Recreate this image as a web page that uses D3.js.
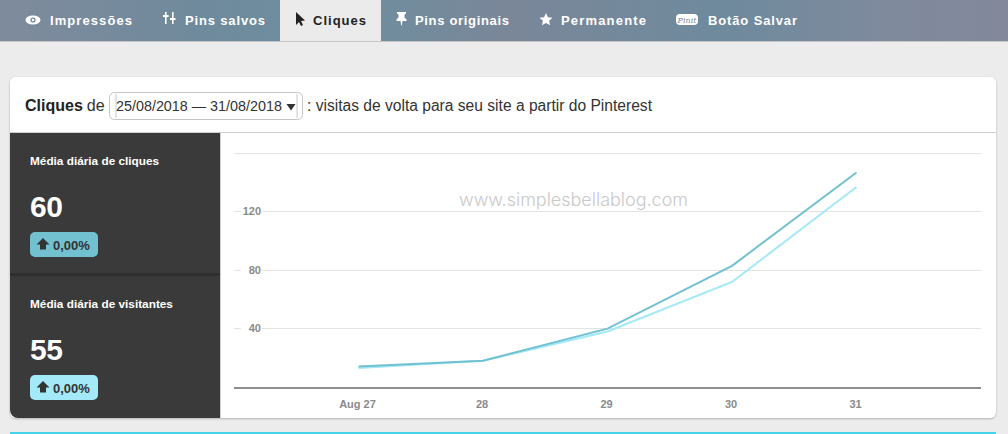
<!DOCTYPE html>
<html>
<head>
<meta charset="utf-8">
<script src="https://cdn.jsdelivr.net/npm/d3@7"></script>
<style>
html, body { margin: 0; padding: 0; background: #ececec; overflow: hidden; }
svg { display: block; font-family: "Liberation Sans", Arial, sans-serif; }
</style>
</head>
<body>
<div id="containerDiv"></div>
<script>
// chart data
var days = ["Aug 27", "28", "29", "30", "31"];
var clicks = [14, 18, 40, 83, 147];
var visitors = [13, 18, 38, 72, 137];
var yTicks = [40, 80, 120, 160];

var navLabels = ["Impressões", "Pins salvos", "Cliques", "Pins originais", "Permanente", "Botão Salvar"];
var navTextX = [50, 185, 313, 415, 561, 708];
var navTextW = [82, 80, 53, 94, 85, 89];
var statTitles = ["Média diária de cliques", "Média diária de visitantes"];
var statValues = ["60", "55"];
var statChange = "0,00%";

var w = 1008, h = 434;
var darkBlue = "#72c1d1", lightBlue = "#a3e9f7";

var svg = d3.select("#containerDiv").append("svg").attr("width", w).attr("height", h);
var defs = svg.append("defs");

var navGrad = defs.append("linearGradient").attr("id", "navGrad");
[[0, "#7f8b9c"], [0.2, "#6f8a9c"], [0.33, "#6d8f9f"], [0.5, "#7a8799"], [0.72, "#6f8a9d"], [0.88, "#7f8a9d"], [1, "#83889b"]].forEach(function(s) {
  navGrad.append("stop").attr("offset", s[0]).attr("stop-color", s[1]);
});

var shadow = defs.append("filter").attr("id", "cardShadow").attr("x", "-2%").attr("y", "-2%").attr("width", "104%").attr("height", "104%");
shadow.append("feDropShadow").attr("dx", 0).attr("dy", 1).attr("stdDeviation", 1).attr("flood-color", "#000").attr("flood-opacity", 0.25);

// nav bar
svg.append("rect").attr("width", w).attr("height", 41).attr("fill", "url(#navGrad)");
svg.append("rect").attr("y", 41).attr("width", w).attr("height", 1).attr("fill", "#c6c6c6");
svg.append("rect").attr("x", 280).attr("width", 101).attr("height", 41).attr("fill", "#ebebeb");

svg.selectAll("text.nav")
  .data(navLabels)
  .enter()
  .append("text")
  .attr("class", "nav")
  .attr("x", function(d, i) { return navTextX[i]; })
  .attr("y", 25)
  .attr("font-size", 13)
  .attr("font-weight", "bold")
  .attr("textLength", function(d, i) { return navTextW[i]; })
  .attr("fill", function(d) { return d == "Cliques" ? "#222" : "#fff"; })
  .text(function(d) { return d; });

// nav icons
var eye = svg.append("g").attr("transform", "translate(33,20)");
eye.append("ellipse").attr("rx", 7.5).attr("ry", 4.5).attr("fill", "#fff");
eye.append("circle").attr("r", 2.6).attr("fill", "#74889a");
eye.append("circle").attr("r", 1.3).attr("fill", "#fff");
svg.append("path").attr("d", "M165 12h1.6v3h2v2h-2v7h-1.6v-7h-2v-2h2z M172 12h1.6v6h2v2h-2v4H172v-4h-2v-2h2z").attr("fill", "#fff");
svg.append("path").attr("d", "M296 12l0 13 3-3 2 4 2-1-2-4 4-.5z").attr("fill", "#222");
svg.append("path").attr("d", "M397 12h9v1.5l-1.5 1v3l2 2v1.5h-4l-.7 4.5h-.6l-.7-4.500h-4v-1.500l2-2v-3l-1.500-1z").attr("fill", "#fff");
svg.append("path").attr("d", "M546 13l1.900 4.200 4.600.5-3.400 3.100 1 4.500-4.100-2.400-4.100 2.400 1-4.500-3.400-3.100 4.600-.5z").attr("fill", "#fff");
svg.append("rect").attr("x", 676).attr("y", 14).attr("width", 22).attr("height", 11).attr("rx", 4).attr("fill", "#fff");
svg.append("text").attr("x", 687).attr("y", 22.500).attr("text-anchor", "middle").attr("font-size", 8).attr("font-style", "italic").attr("font-family", "'DejaVu Serif', serif").attr("fill", "#7b8a9c").text("Pinit");

// card
svg.append("rect").attr("x", 10).attr("y", 77).attr("width", 986).attr("height", 341).attr("rx", 6).attr("fill", "#fff").attr("filter", "url(#cardShadow)");
svg.append("rect").attr("x", 10).attr("y", 132).attr("width", 986).attr("height", 1).attr("fill", "#cfcfcf");

// header line
var head = svg.append("text").attr("x", 25).attr("y", 111).attr("font-size", 16).attr("fill", "#222");
head.append("tspan").attr("font-weight", "bold").text("Cliques");
head.append("tspan").attr("dx", 4).attr("fill", "#333").text("de");

svg.append("rect").attr("x", 109.500).attr("y", 92.500).attr("width", 193).attr("height", 27).attr("rx", 5).attr("fill", "#fff").attr("stroke", "#c4c4c4");
svg.append("rect").attr("x", 115).attr("y", 94).attr("width", 2).attr("height", 24).attr("fill", "#e4e4e4");
svg.append("rect").attr("x", 296).attr("y", 94).attr("width", 2).attr("height", 24).attr("fill", "#e4e4e4");
svg.append("text").attr("x", 116).attr("y", 111).attr("font-size", 14.35).attr("fill", "#333").text("25/08/2018 — 31/08/2018");
svg.append("path").attr("d", "M286.500 104h9l-4.500 6.500z").attr("fill", "#333");
svg.append("text").attr("x", 307).attr("y", 111).attr("font-size", 15.6).attr("fill", "#333").text(": visitas de volta para seu site a partir do Pinterest");

// dark side panel
svg.append("path").attr("d", "M10 133H220V418H18a8 8 0 0 1-8-8z").attr("fill", "#3a3a3a");
svg.append("rect").attr("x", 220).attr("y", 133).attr("width", 1).attr("height", 285).attr("fill", "#cfcfcf");
svg.append("rect").attr("x", 10).attr("y", 273).attr("width", 210).attr("height", 3).attr("fill", "#2e2e2e");

var stat = svg.selectAll("g.stat")
  .data(statTitles)
  .enter()
  .append("g")
  .attr("class", "stat")
  .attr("transform", function(d, i) { return "translate(30," + (i == 0 ? 133 : 276) + ")"; });

stat.append("text").attr("y", 32).attr("font-size", 11.8).attr("font-weight", "bold").attr("fill", "#fff").text(function(d) { return d; });
stat.append("text").attr("y", 83.5).attr("font-size", 30).attr("font-weight", "bold").attr("letter-spacing", -0.5).attr("fill", "#fff").text(function(d, i) { return statValues[i]; });
stat.append("rect").attr("y", 99).attr("width", 68).attr("height", 25).attr("rx", 5).attr("fill", function(d, i) { return i == 0 ? darkBlue : lightBlue; });
stat.append("path").attr("d", "M6.500 111.500l6.500-6.500 6.500 6.500h-3.500v5h-6v-5z").attr("fill", "#333");
stat.append("text").attr("x", 23).attr("y", 116.500).attr("font-size", 13).attr("font-weight", "bold").attr("fill", "#333").text(statChange);

// chart
var x = d3.scalePoint().domain(days).range([358.5, 856.5]);
var y = d3.scaleLinear().domain([0, 160]).range([387, 153.5]);

var grid = svg.append("g").attr("transform", "translate(234,0)")
  .call(d3.axisLeft(y).offset(0).tickValues(yTicks).tickSize(-747).tickFormat(""));
grid.select(".domain").remove();
grid.selectAll("line").attr("stroke", "#e3e3e3").attr("shape-rendering", "crispEdges");

svg.append("text")
  .attr("x", 459)
  .attr("y", 206)
  .attr("font-family", "Inter, sans-serif")
  .attr("font-weight", 300)
  .attr("font-size", 18)
  .attr("textLength", 229)
  .attr("fill", "#c9c9c9")
  .text("www.simplesbellablog.com");

var yLabels = svg.append("g").attr("transform", "translate(261,0)")
  .call(d3.axisLeft(y).offset(0).tickValues(yTicks.slice(0, 3)).tickSize(0).tickPadding(0));
yLabels.select(".domain").remove();
yLabels.selectAll("text").attr("font-family", "'Liberation Sans', Arial, sans-serif").attr("font-size", 11).attr("font-weight", "bold").attr("fill", "#8a8a8a");
yLabels.selectAll(".tick").insert("rect", "text").attr("x", -20).attr("y", -2).attr("width", 21).attr("height", 4).attr("fill", "#fff");

var line = d3.line().x(function(d, i) { return x(days[i]); }).y(function(d) { return y(d); });

svg.append("path").datum(visitors).attr("d", line).attr("fill", "none").attr("stroke", lightBlue).attr("stroke-width", 2);
svg.append("path").datum(clicks).attr("d", line).attr("fill", "none").attr("stroke", darkBlue).attr("stroke-width", 2);

var xAxis = svg.append("g").attr("transform", "translate(-1.5,387)")
  .call(d3.axisBottom(x).tickSize(0).tickPadding(13));
xAxis.select(".domain").remove();
xAxis.selectAll("text").attr("font-family", "'Liberation Sans', Arial, sans-serif").attr("font-size", 11).attr("font-weight", "bold").attr("fill", "#8a8a8a");
svg.append("line").attr("x1", 234).attr("x2", 981).attr("y1", 388).attr("y2", 388).attr("stroke", "#8e8e8e").attr("stroke-width", 2);

// top edge of the next card
svg.append("rect").attr("x", 10).attr("y", 432).attr("width", 986).attr("height", 2).attr("fill", "#44d3e8");
</script>
</body>
</html>
